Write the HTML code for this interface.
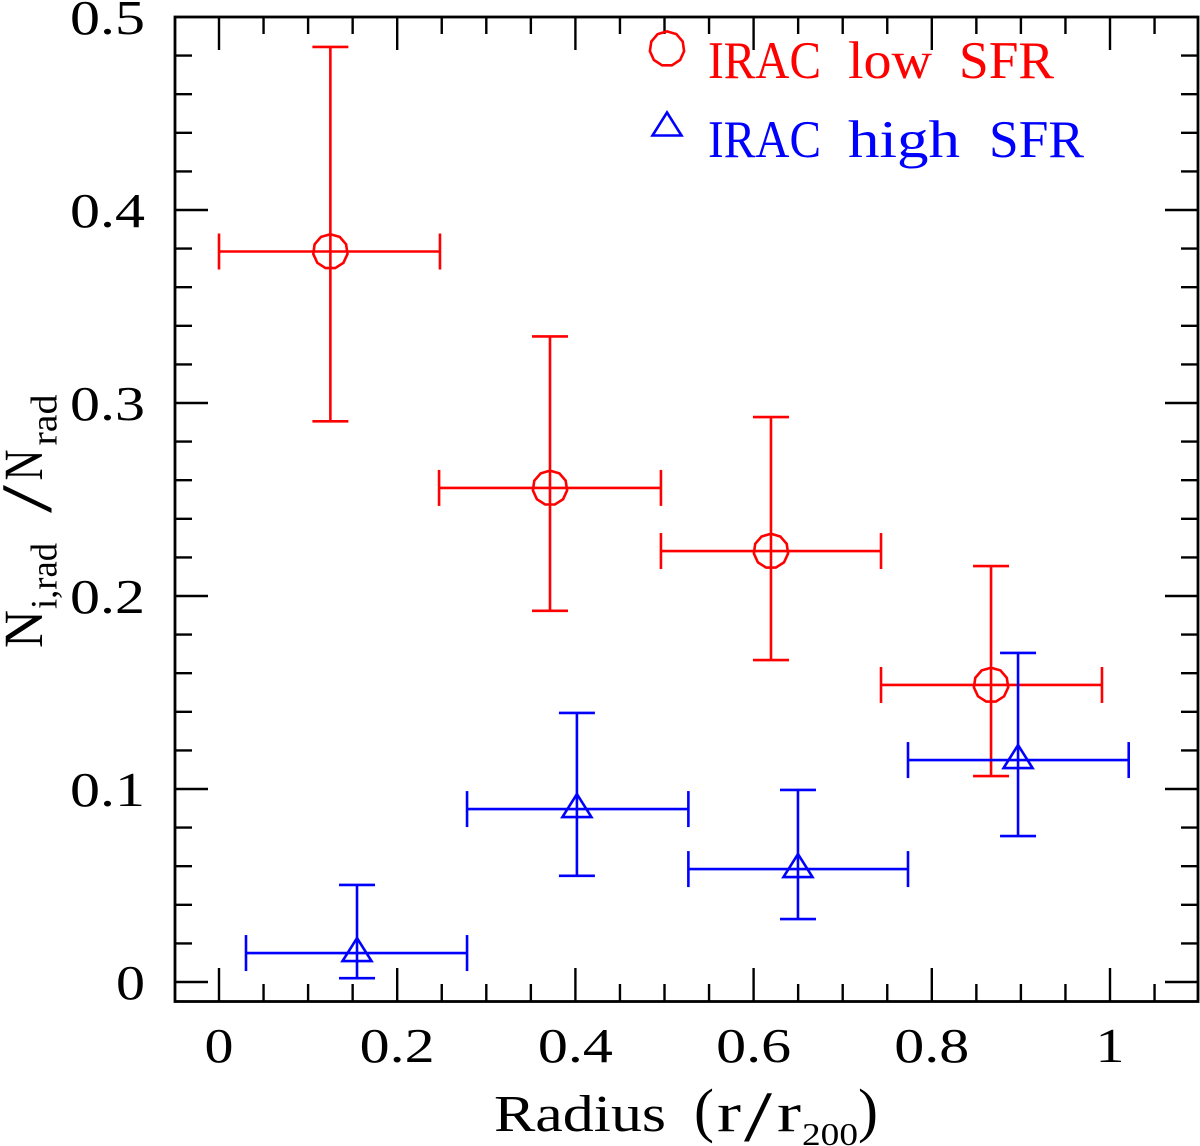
<!DOCTYPE html>
<html lang="en">
<head>
<meta charset="utf-8">
<title>IRAC SFR radial fractions</title>
<style>
html,body{margin:0;padding:0;background:#fff;}
svg{display:block;}
text{font-family:"Liberation Serif",serif;}
</style>
</head>
<body>
<svg id="chart" xmlns="http://www.w3.org/2000/svg" width="1200" height="1146" viewBox="0 0 1200 1146">
  <rect x="0" y="0" width="1200" height="1146" fill="#fff"/>
  <g id="ticks" stroke="#000" stroke-width="2.4" fill="none"></g>
  <rect x="175" y="17" width="1023" height="984.5" fill="none" stroke="#000" stroke-width="2.8"/>
  <g id="tick-labels" fill="#000"></g>
  <g id="series" fill="none" stroke-width="2.6"></g>

  <g>
    <g fill="#ff0000" font-size="53">
      <polygon id="legend-circle" fill="none" stroke="#ff0000" stroke-width="2.6"/>
      <text x="708" y="78" textLength="113" lengthAdjust="spacingAndGlyphs">IRAC</text>
      <text x="848" y="78" textLength="84" lengthAdjust="spacingAndGlyphs">low</text>
      <text x="959" y="78" textLength="95" lengthAdjust="spacingAndGlyphs">SFR</text>
    </g>
    <g fill="#0000ff" font-size="53">
      <polygon id="legend-triangle" fill="none" stroke="#0000ff" stroke-width="2.6"/>
      <text x="708" y="157" textLength="113" lengthAdjust="spacingAndGlyphs">IRAC</text>
      <text x="848" y="157" textLength="112" lengthAdjust="spacingAndGlyphs">high</text>
      <text x="989" y="157" textLength="95" lengthAdjust="spacingAndGlyphs">SFR</text>
    </g>
  </g>

  <g fill="#000">
    <text x="494" y="1131" font-size="52" textLength="172" lengthAdjust="spacingAndGlyphs">Radius</text>
    <text x="694" y="1130.5" font-size="60">(</text>
    <text x="717" y="1131" font-size="55" textLength="24" lengthAdjust="spacingAndGlyphs">r</text>
    <text x="0" y="0" font-size="72" transform="translate(744,1141) scale(1.4,1)">/</text>
    <text x="777" y="1131" font-size="55" textLength="24" lengthAdjust="spacingAndGlyphs">r</text>
    <text x="802" y="1145" font-size="32" textLength="56" lengthAdjust="spacingAndGlyphs">200</text>
    <text x="858" y="1130.5" font-size="60">)</text>
  </g>

  <g fill="#000">
    <text x="0" y="0" font-size="55" textLength="38" lengthAdjust="spacingAndGlyphs" transform="translate(42,648) rotate(-90)">N</text>
    <text x="0" y="0" font-size="37" textLength="66" lengthAdjust="spacingAndGlyphs" transform="translate(56.5,609) rotate(-90)">i,rad</text>
    <text x="0" y="0" font-size="72" transform="translate(51,513) rotate(-90) scale(1.4,1)">/</text>
    <text x="0" y="0" font-size="55" textLength="31" lengthAdjust="spacingAndGlyphs" transform="translate(42,480.5) rotate(-90)">N</text>
    <text x="0" y="0" font-size="37" textLength="51" lengthAdjust="spacingAndGlyphs" transform="translate(56.5,445.5) rotate(-90)">rad</text>
  </g>
</svg>

<script>
var xMajorTicks = [0, 0.2, 0.4, 0.6, 0.8, 1];
var xTickLabels = ['0', '0.2', '0.4', '0.6', '0.8', '1'];
var xMinorTicks = [0.05, 0.1, 0.15, 0.25, 0.3, 0.35, 0.45, 0.5, 0.55, 0.65, 0.7, 0.75, 0.85, 0.9, 0.95, 1.05];
var yMajorTicks = [0, 0.1, 0.2, 0.3, 0.4];
var yLabelTicks = [0, 0.1, 0.2, 0.3, 0.4, 0.5];
var yTickLabels = ['0', '0.1', '0.2', '0.3', '0.4', '0.5'];
var yMinorTicks = [0.02, 0.04, 0.06, 0.08, 0.12, 0.14, 0.16, 0.18, 0.22, 0.24, 0.26, 0.28, 0.32, 0.34, 0.36, 0.38, 0.42, 0.44, 0.46, 0.48];

var lowRadius = [0.125, 0.3715, 0.6195, 0.8665];
var lowRadiusMin = [0, 0.247, 0.496, 0.743];
var lowRadiusMax = [0.248, 0.496, 0.743, 0.991];
var lowFraction = [0.3785, 0.256, 0.2233, 0.1539];
var lowFractionMax = [0.4845, 0.3345, 0.2927, 0.2155];
var lowFractionMin = [0.2905, 0.1923, 0.1668, 0.1067];

var highRadius = [0.1549, 0.4017, 0.6498, 0.8968];
var highRadiusMin = [0.0303, 0.2784, 0.5268, 0.7733];
var highRadiusMax = [0.2784, 0.5268, 0.7733, 1.021];
var highFraction = [0.015, 0.0896, 0.0585, 0.115];
var highFractionMax = [0.0503, 0.1394, 0.0995, 0.1705];
var highFractionMin = [0.002, 0.055, 0.0326, 0.0756];

var SVGNS = 'http://www.w3.org/2000/svg';
function xPos(v) { return 219 + 891 * v; }
function yPos(v) { return 982 - 1930 * v; }

function circlePoints(cx, cy, r) {
  var pts = [];
  for (var i = 0; i < 11; i++) {
    var a = (i * 360 / 11 - 90) * Math.PI / 180;
    pts.push((cx + r * Math.cos(a)).toFixed(1) + ',' + (cy + r * Math.sin(a)).toFixed(1));
  }
  return pts.join(' ');
}
function trianglePoints(cx, cy) {
  return cx + ',' + (cy - 15) + ' ' + (cx - 14.5) + ',' + (cy + 8) + ' ' + (cx + 14.5) + ',' + (cy + 8);
}
function addLine(parent, x1, y1, x2, y2, name) {
  var el = document.createElementNS(SVGNS, 'line');
  el.setAttribute('x1', x1);
  el.setAttribute('y1', y1);
  el.setAttribute('x2', x2);
  el.setAttribute('y2', y2);
  
  
  parent.appendChild(el);
  return el;
}

var ticksG = document.getElementById('ticks');
function drawXTick(v, len) {
  var p = xPos(v);
  addLine(ticksG, p, 1001, p, 1001 - len, 'x-axis-tick');
  addLine(ticksG, p, 17, p, 17 + len, 'x-axis-top-tick');
}
function drawYTick(v, len) {
  var p = yPos(v);
  addLine(ticksG, 175, p, 175 + len, p, 'y-axis-tick');
  addLine(ticksG, 1198, p, 1198 - len, p, 'y-axis-right-tick');
}
xMajorTicks.forEach(function (v) { drawXTick(v, 33); });
xMinorTicks.forEach(function (v) { drawXTick(v, 17); });
yMajorTicks.forEach(function (v) { drawYTick(v, 33); });
yMinorTicks.forEach(function (v) { drawYTick(v, 17); });

var labelsG = document.getElementById('tick-labels');
function addLabel(str, px, py, anchor, name) {
  var t = document.createElementNS(SVGNS, 'text');
  t.setAttribute('x', px);
  t.setAttribute('y', py);
  t.setAttribute('font-size', '49');
  t.setAttribute('text-anchor', anchor);
  t.setAttribute('textLength', str.length > 1 ? 75 : 29);
  t.setAttribute('lengthAdjust', 'spacingAndGlyphs');
  
  
  t.textContent = str;
  labelsG.appendChild(t);
}
xMajorTicks.forEach(function (v, i) {
  addLabel(xTickLabels[i], xPos(v), 1062, 'middle', 'x-tick-label');
});
yLabelTicks.forEach(function (v, i) {
  addLabel(yTickLabels[i], 145, yPos(v) + 17, 'end', 'y-tick-label');
});

var seriesG = document.getElementById('series');
function drawSeries(name, color, xs, xMin, xMax, ys, yMax, yMin, marker) {
  var g = document.createElementNS(SVGNS, 'g');
  g.setAttribute('stroke', color);
  
  
  seriesG.appendChild(g);
  xs.forEach(function (x, i) {
    var cx = xPos(x), cy = yPos(ys[i]);
    var x0 = xPos(xMin[i]), x1 = xPos(xMax[i]);
    var y0 = yPos(yMin[i]), y1 = yPos(yMax[i]);
    addLine(g, x0, cy, x1, cy, 'x-error-bar');
    addLine(g, x0, cy - 18, x0, cy + 18, 'x-error-cap');
    addLine(g, x1, cy - 18, x1, cy + 18, 'x-error-cap');
    addLine(g, cx, y0, cx, y1, 'y-error-bar');
    addLine(g, cx - 18, y0, cx + 18, y0, 'y-error-cap');
    addLine(g, cx - 18, y1, cx + 18, y1, 'y-error-cap');
    var m = document.createElementNS(SVGNS, 'polygon');
    m.setAttribute('points', marker(cx, cy));
    
    
    g.appendChild(m);
  });
}
drawSeries('low-sfr', '#ff0000', lowRadius, lowRadiusMin, lowRadiusMax, lowFraction, lowFractionMax, lowFractionMin,
  function (cx, cy) { return circlePoints(cx, cy, 17.3); });
drawSeries('high-sfr', '#0000ff', highRadius, highRadiusMin, highRadiusMax, highFraction, highFractionMax, highFractionMin,
  trianglePoints);

document.getElementById('legend-circle').setAttribute('points', circlePoints(667, 48.7, 17.3));
document.getElementById('legend-triangle').setAttribute('points', trianglePoints(667, 127.5));
</script>
</body>
</html>
